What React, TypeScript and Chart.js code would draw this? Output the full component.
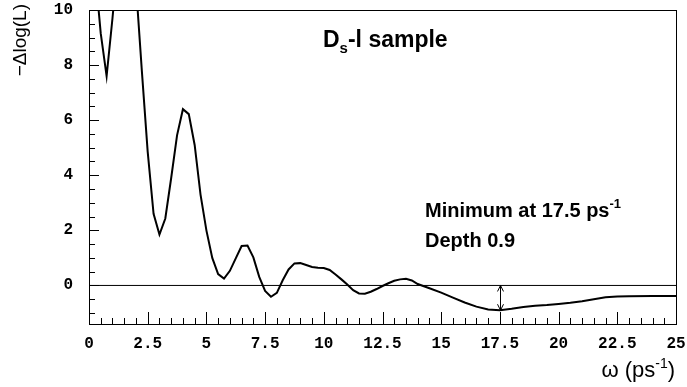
import React, { useEffect, useRef } from 'react';
import { Chart, registerables } from 'chart.js';

Chart.register(...registerables);

// omega (ps^-1)
const omega = [
  0, 0.25, 0.5, 0.75, 1.0, 1.25, 1.5, 1.75, 2.0, 2.25, 2.5, 2.75, 3.0, 3.25, 3.5, 3.75,
  4.0, 4.25, 4.5, 4.75, 5.0, 5.25, 5.5, 5.75, 6.0, 6.25, 6.5, 6.75, 7.0, 7.25, 7.5, 7.75,
  8.0, 8.25, 8.5, 8.75, 9.0, 9.25, 9.5, 9.75, 10.0, 10.25, 10.5, 10.75, 11.0, 11.25, 11.5, 11.75,
  12.0, 12.25, 12.5, 12.75, 13.0, 13.25, 13.5, 13.75, 14.0, 14.5, 15.0, 15.5, 16.0, 16.5,
  17.0, 17.5, 18.0, 18.5, 19.0, 19.5, 20.0, 20.5, 21.0, 21.5, 22.0, 22.5, 23.0, 24.0, 25.0,
];

// -Delta log(L)
const deltaLogL = [
  14.0, 11.5, 9.15, 7.6, 9.7, 12.0, 13.5, 13.0, 10.9, 7.8, 4.85, 2.6, 1.85, 2.43, 3.9, 5.45,
  6.4, 6.22, 5.1, 3.3, 2.0, 1.0, 0.41, 0.25, 0.53, 0.98, 1.43, 1.45, 1.02, 0.31, -0.2, -0.41,
  -0.27, 0.19, 0.58, 0.8, 0.81, 0.74, 0.67, 0.64, 0.63, 0.56, 0.4, 0.22, 0.03, -0.17, -0.29, -0.3,
  -0.23, -0.13, -0.02, 0.08, 0.17, 0.22, 0.24, 0.18, 0.05, -0.1, -0.26, -0.44, -0.62, -0.77,
  -0.87, -0.9, -0.85, -0.78, -0.74, -0.71, -0.67, -0.63, -0.57, -0.5, -0.43, -0.4, -0.39, -0.38, -0.38,
];

const xTickValues = [0, 2.5, 5, 7.5, 10, 12.5, 15, 17.5, 20, 22.5, 25];
const xTickLabels = ['0', '2.5', '5', '7.5', '10', '12.5', '15', '17.5', '20', '22.5', '25'];
const yTickValues = [0, 2, 4, 6, 8, 10];
const yTickLabels = ['0', '2', '4', '6', '8', '10'];

const xMin = 0;
const xMax = 25;
const yMin = -1.4;
const yMax = 10;

const minimumOmega = 17.5;
const minimumDepth = -0.9;

const titleMain = 'D';
const titleSub = 's';
const titleRest = '-l sample';
const noteLine1 = 'Minimum at 17.5 ps';
const noteSup = '-1';
const noteLine2 = 'Depth 0.9';
const yTitle = '\u2212\u0394log(L)';
const xTitleMain = '\u03c9 (ps';
const xTitleSup = '-1';
const xTitleEnd = ')';

const SANS = '"Liberation Sans", Arial, sans-serif';

const decorPlugin = {
  id: 'decor',
  afterDraw(chart: any) {
    const ctx = chart.ctx as CanvasRenderingContext2D;
    const { left, right, top, bottom } = chart.chartArea;
    const xs = chart.scales.x;
    const ys = chart.scales.y;
    ctx.save();
    ctx.strokeStyle = '#000';
    ctx.lineWidth = 1;
    // frame
    ctx.strokeRect(Math.round(left) + 0.5, Math.round(top) + 0.5, Math.round(right - left), Math.round(bottom - top));
    // x ticks (inside, pointing up)
    ctx.beginPath();
    for (let i = 0; i <= 50; i++) {
      const v = i * 0.5;
      const px = Math.round(xs.getPixelForValue(v)) + 0.5;
      const len = i % 5 === 0 ? 12 : 6;
      ctx.moveTo(px, bottom);
      ctx.lineTo(px, bottom - len);
    }
    // y ticks (inside, pointing right)
    for (let i = -2; i <= 20; i++) {
      const v = i * 0.5;
      const py = Math.round(ys.getPixelForValue(v)) + 0.5;
      const len = i % 4 === 0 ? 10 : 6;
      ctx.moveTo(left, py);
      ctx.lineTo(left + len, py);
    }
    ctx.stroke();

    // arrow at minimum
    const ax = Math.round(xs.getPixelForValue(minimumOmega)) + 0.5;
    const ay0 = ys.getPixelForValue(0);
    const ay1 = ys.getPixelForValue(minimumDepth);
    ctx.beginPath();
    ctx.moveTo(ax, ay0);
    ctx.lineTo(ax, ay1);
    ctx.moveTo(ax - 3, ay0 + 6);
    ctx.lineTo(ax, ay0);
    ctx.lineTo(ax + 3, ay0 + 6);
    ctx.moveTo(ax - 3, ay1 - 6);
    ctx.lineTo(ax, ay1);
    ctx.lineTo(ax + 3, ay1 - 6);
    ctx.stroke();

    ctx.fillStyle = '#000';
    ctx.textBaseline = 'alphabetic';
    ctx.textAlign = 'left';
    // title
    ctx.font = `bold 23px ${SANS}`;
    let x = 323;
    ctx.fillText(titleMain, x, 47);
    x += ctx.measureText(titleMain).width;
    ctx.font = `bold 15px ${SANS}`;
    ctx.fillText(titleSub, x, 53);
    x += ctx.measureText(titleSub).width;
    ctx.font = `bold 23px ${SANS}`;
    ctx.fillText(titleRest, x, 47);

    // notes
    ctx.font = `bold 20px ${SANS}`;
    ctx.fillText(noteLine1, 425, 217);
    const w1 = ctx.measureText(noteLine1).width;
    ctx.font = `bold 13px ${SANS}`;
    ctx.fillText(noteSup, 425 + w1, 208);
    ctx.font = `bold 20px ${SANS}`;
    ctx.fillText(noteLine2, 425, 247);

    // x title
    ctx.font = `22px ${SANS}`;
    const wa = ctx.measureText(xTitleMain).width;
    const we = ctx.measureText(xTitleEnd).width;
    ctx.font = `14px ${SANS}`;
    const ws = ctx.measureText(xTitleSup).width;
    let tx = 675 - (wa + ws + we);
    ctx.font = `22px ${SANS}`;
    ctx.fillText(xTitleMain, tx, 377);
    tx += wa;
    ctx.font = `14px ${SANS}`;
    ctx.fillText(xTitleSup, tx, 368);
    tx += ws;
    ctx.font = `22px ${SANS}`;
    ctx.fillText(xTitleEnd, tx, 377);

    // y title
    ctx.save();
    ctx.translate(21, 4);
    ctx.rotate(-Math.PI / 2);
    ctx.textAlign = 'right';
    ctx.textBaseline = 'middle';
    ctx.font = `19px ${SANS}`;
    ctx.fillText(yTitle, 0, 0);
    ctx.restore();

    ctx.restore();
  },
};

export default function App() {
  const canvasRef = useRef<HTMLCanvasElement | null>(null);

  useEffect(() => {
    const canvas = canvasRef.current;
    if (!canvas) return;
    const curve = omega.map((w, i) => ({ x: w, y: deltaLogL[i] }));
    const zero = [
      { x: xMin, y: 0 },
      { x: xMax, y: 0 },
    ];
    const tickFont = { family: '"Liberation Mono", "Courier New", monospace', size: 16, weight: 'bold' as const };
    const chart = new Chart(canvas, {
      type: 'line',
      data: {
        datasets: [
          {
            data: curve,
            borderColor: '#000',
            borderWidth: 2,
            pointRadius: 0,
            tension: 0,
            fill: false,
          },
          {
            data: zero,
            borderColor: '#000',
            borderWidth: 1,
            pointRadius: 0,
            tension: 0,
            fill: false,
          },
        ],
      },
      options: {
        animation: false,
        responsive: false,
        events: [],
        layout: { padding: { left: 0, right: 11, top: 10, bottom: 0 } },
        plugins: { legend: { display: false }, tooltip: { enabled: false }, title: { display: false } },
        scales: {
          x: {
            type: 'linear',
            min: xMin,
            max: xMax,
            border: { display: false },
            grid: { display: false, drawTicks: false },
            afterBuildTicks: (s: any) => {
              s.ticks = xTickValues.map((v) => ({ value: v }));
            },
            afterFit: (s: any) => {
              s.height = 63;
              s.paddingLeft = 0;
              s.paddingRight = 0;
            },
            ticks: {
              autoSkip: false,
              maxRotation: 0,
              padding: 10,
              color: '#000',
              font: tickFont,
              callback: (v: any) => {
                const i = xTickValues.indexOf(Number(v));
                return i >= 0 ? xTickLabels[i] : '';
              },
            },
          },
          y: {
            type: 'linear',
            min: yMin,
            max: yMax,
            border: { display: false },
            grid: { display: false, drawTicks: false },
            afterBuildTicks: (s: any) => {
              s.ticks = yTickValues.map((v) => ({ value: v }));
            },
            afterFit: (s: any) => {
              s.width = 89;
              s.paddingTop = 0;
              s.paddingBottom = 0;
            },
            ticks: {
              autoSkip: false,
              padding: 16,
              color: '#000',
              font: tickFont,
              callback: (v: any) => {
                const i = yTickValues.indexOf(Number(v));
                return i >= 0 ? yTickLabels[i] : '';
              },
            },
          },
        },
      },
      plugins: [decorPlugin],
    });
    return () => chart.destroy();
  }, []);

  return (
    <div style={{ position: 'fixed', left: 0, top: 0, width: 687, height: 387, background: '#fff' }}>
      <canvas ref={canvasRef} width={687} height={387} style={{ width: 687, height: 387 }} />
    </div>
  );
}
